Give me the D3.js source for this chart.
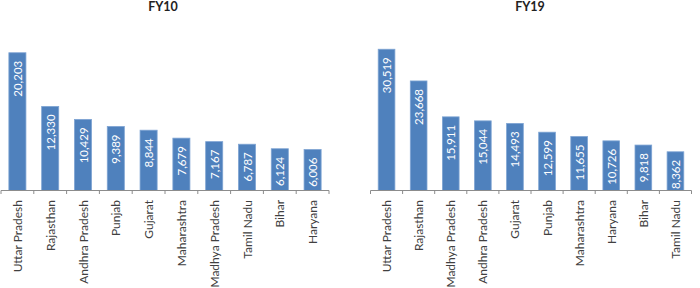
<!DOCTYPE html>
<html lang="en">
  <head>
    <meta charset="UTF-8" />
    <script src="https://d3js.org/d3.v7.min.js"></script>
    <style>
      body { margin: 0; background: #fff; }
      text { font-family: Lato, 'Open Sans', sans-serif; }
      .title { font-weight: bold; font-size: 12.5px; fill: #222; }
      .val { font-size: 11.5px; fill: #fff; }
      .cat { font-size: 12px; fill: #404040; }
    </style>
  </head>
  <body>
    <script>
      const width = 700
      const height = 288

      const fy10States = ['Uttar Pradesh', 'Rajasthan', 'Andhra Pradesh', 'Punjab', 'Gujarat', 'Maharashtra', 'Madhya Pradesh', 'Tamil Nadu', 'Bihar', 'Haryana']
      const fy10Values = [20203, 12330, 10429, 9389, 8844, 7679, 7167, 6787, 6124, 6006]

      const fy19States = ['Uttar Pradesh', 'Rajasthan', 'Madhya Pradesh', 'Andhra Pradesh', 'Gujarat', 'Punjab', 'Maharashtra', 'Haryana', 'Bihar', 'Tamil Nadu']
      const fy19Values = [30519, 23668, 15911, 15044, 14493, 12599, 11655, 10726, 9818, 8362]

      const svg = d3.select('body')
        .append('svg')
        .attr('width', width)
        .attr('height', height)

      const fmt = d3.format(',')
      const baseY = 190.5

      function drawChart(title, states, values, x0, x1, yMax, yTop, titleX) {
        const g = svg.append('g')
        const x = d3.scaleBand().domain(states).range([x0, x1]).padding(0)
        const y = d3.scaleLinear().domain([0, yMax]).range([baseY, yTop])
        const bw = x.bandwidth() * 0.52

        g.append('text')
          .attr('class', 'title')
          .attr('x', titleX)
          .attr('y', 11)
          .attr('text-anchor', 'middle')
          .text(title)

        g.selectAll('rect')
          .data(values)
          .join('rect')
          .attr('x', (d, i) => x(states[i]) + (x.bandwidth() - bw) / 2)
          .attr('y', d => y(d))
          .attr('width', bw)
          .attr('height', d => baseY - y(d))
          .attr('fill', '#4f81bd')
          .attr('stroke', '#7ea4d3')
          .attr('stroke-width', 0.8)

        g.selectAll('.val')
          .data(values)
          .join('text')
          .attr('class', 'val')
          .attr('text-anchor', 'end')
          .attr('dominant-baseline', 'central')
          .attr('transform', (d, i) => 'translate(' + (x(states[i]) + x.bandwidth() / 2) + ',' + (y(d) + 8) + ') rotate(-90)')
          .text(d => fmt(d))

        // axis line with ticks at band boundaries
        g.append('line')
          .attr('x1', x0).attr('x2', x1)
          .attr('y1', baseY).attr('y2', baseY)
          .attr('stroke', '#8c8c8c')
        const bounds = states.map(s => x(s)).concat([x1])
        g.selectAll('.tick')
          .data(bounds)
          .join('line')
          .attr('x1', d => d).attr('x2', d => d)
          .attr('y1', baseY).attr('y2', baseY + 3.5)
          .attr('stroke', '#8c8c8c')

        g.selectAll('.cat')
          .data(states)
          .join('text')
          .attr('class', 'cat')
          .attr('text-anchor', 'end')
          .attr('dominant-baseline', 'central')
          .attr('transform', d => 'translate(' + (x(d) + x.bandwidth() / 2) + ',' + 200 + ') rotate(-90)')
          .text(d => d)
      }

      drawChart('FY10', fy10States, fy10Values, 1, 329, 22000, 40.5, 163)
      drawChart('FY19', fy19States, fy19Values, 370.5, 691.5, 35000, 28.5, 530)
    </script>
  </body>
</html>
